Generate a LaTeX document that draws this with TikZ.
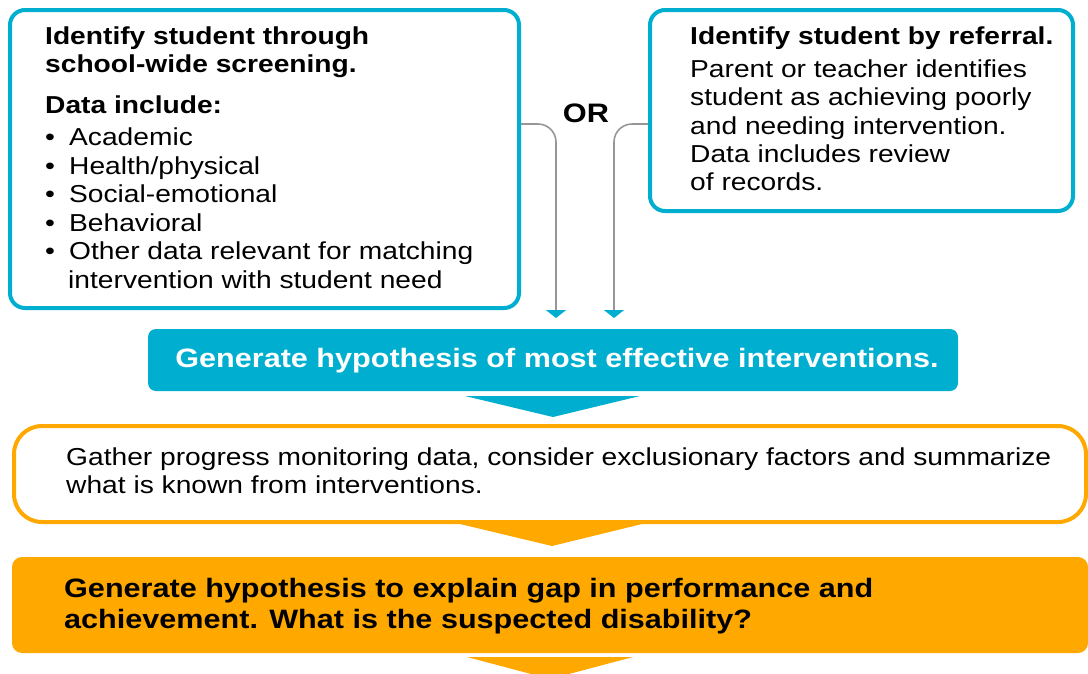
\documentclass[tikz,border=0pt]{standalone}
\usepackage{fontspec}
\setmainfont{Liberation Sans}[FakeStretch=1.15]
\usetikzlibrary{arrows.meta}
\definecolor{cy}{RGB}{0,174,207}
\definecolor{og}{RGB}{255,168,0}
\definecolor{gr}{RGB}{150,150,150}
\begin{document}
\begin{tikzpicture}[x=1pt,y=-1pt,
  txt/.style={inner sep=0pt,anchor=base west,font=\fontsize{24.5}{28.6}\selectfont},
  btxt/.style={inner sep=0pt,anchor=base west,font=\fontsize{24.5}{28.6}\selectfont\bfseries},
  bigb/.style={inner sep=0pt,anchor=base west,font=\fontsize{26.6}{31}\selectfont\bfseries},
  cybox/.style={draw=cy,line width=4pt,rounded corners=15pt,inner sep=0pt},
  conn/.style={draw=gr,line width=1.6pt,rounded corners=18pt,
    -{Triangle[width=20pt,length=8pt,color=cy,fill=cy]}}]
\useasboundingbox (0,0) rectangle (1088,673);
\clip (0,0) rectangle (1088,673);
% boxes
\node[cybox,minimum width=509pt,minimum height=298pt] (lbox) at (264.5,159) {};
\node[cybox,minimum width=423pt,minimum height=201pt] (rbox) at (861.5,110.5) {};
\node[fill=cy,rounded corners=8pt,minimum width=810pt,minimum height=62pt,inner sep=0pt] (cbox) at (553,360) {};
\node[draw=og,line width=4pt,rounded corners=28pt,minimum width=1072pt,minimum height=96pt,inner sep=0pt] (obox) at (550,474) {};
\node[fill=og,rounded corners=10pt,minimum width=1076pt,minimum height=96pt,inner sep=0pt] (fbox) at (550,605) {};
% flow triangles
\fill[cy] (465,396) -- (640,396) -- (553,417) -- cycle;
\fill[og] (460,524) -- (642,524) -- (552,546) -- cycle;
\fill[og] (467,657) -- (633,657) -- (550,679) -- cycle;
% connectors
\coordinate (lend) at (556,329);
\coordinate (rend) at (614,329);
\draw[conn,shorten >=11pt] (lbox.east |- 0,124) -| (lend);
\draw[conn,shorten >=11pt] (rbox.west |- 0,124) -| (rend);
% left box text
\node[btxt] (t1) at (45,44.3) {Identify student through};
\node[btxt] (t2) at (45,72.7) {school-wide screening.};
\node[btxt] (t3) at (45,113.3) {Data include:};
\node[txt] (b1) at (45,145.7) {\makebox[24pt][l]{•}Academic};
\node[txt] (b2) at (45,174.3) {\makebox[24pt][l]{•}Health/physical};
\node[txt] (b3) at (45,202.7) {\makebox[24pt][l]{•}Social-emotional};
\node[txt] (b4) at (45,231) {\makebox[24pt][l]{•}Behavioral};
\node[txt] (b5) at (45,259.3) {\makebox[24pt][l]{•}Other data relevant for matching};
\node[txt] (b6) at (68,288.3) {intervention with student need};
% OR
\node[inner sep=0pt,anchor=base,font=\fontsize{26.7}{30}\selectfont\bfseries] (or) at (586,122) {OR};
% right box text
\node[btxt] (r1) at (690,44) {Identify student by referral.};
\node[txt] (r2) at (690,77.3) {Parent or teacher identifies};
\node[txt] (r3) at (690,105.3) {student as achieving poorly};
\node[txt] (r4) at (690,134) {and needing intervention.};
\node[txt] (r5) at (690,162.7) {Data includes review};
\node[txt] (r6) at (690,190.7) {of records.};
% cyan box text
\node[inner sep=0pt,anchor=base,text=white,font=\fontsize{26.6}{31}\selectfont\bfseries] (ct) at (557,367) {Generate hypothesis of most effective interventions.};
% orange outline text
\node[txt] (g1) at (66,465) {Gather progress monitoring data, consider exclusionary factors and summarize};
\node[txt] (g2) at (66,493) {what is known from interventions.};
% orange filled text
\node[bigb] (h1) at (64,597) {Generate hypothesis to explain gap in performance and};
\node[bigb] (h2) at (64,628) {achievement. What is the suspected disability?};
\end{tikzpicture}
\end{document}
